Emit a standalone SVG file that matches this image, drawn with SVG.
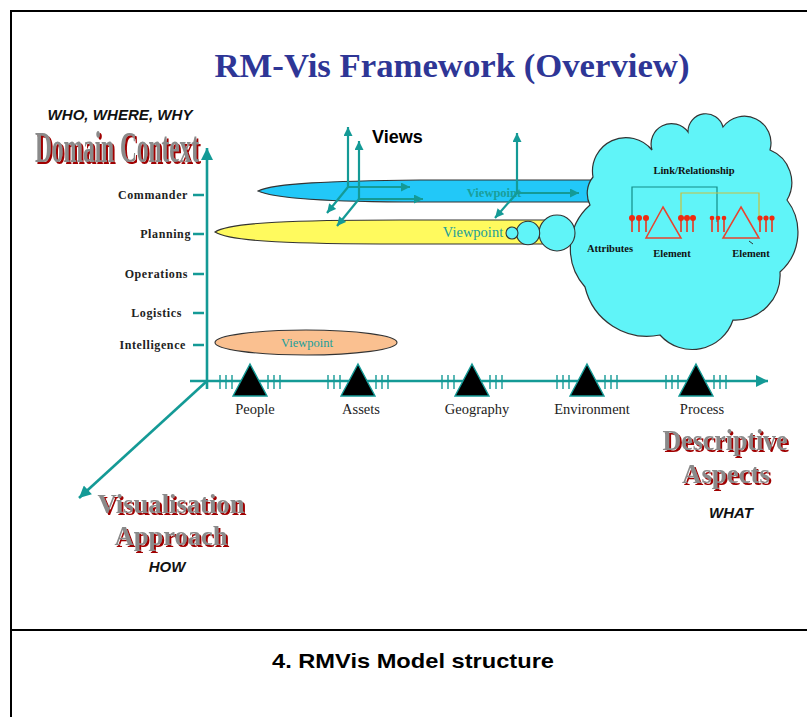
<svg xmlns="http://www.w3.org/2000/svg" width="807" height="717" viewBox="0 0 807 717">
<defs>
<style>
.ax{stroke:#149A96;stroke-width:2.6;fill:none}
.tk{stroke:#149A96;stroke-width:2.4}
.tt{stroke:#149A96;stroke-width:1.4}
.vw{stroke:#149A96;stroke-width:2.2;fill:none}
.lbl{font-family:"Liberation Serif",serif;font-weight:bold;font-size:12px;fill:#222;letter-spacing:0.6px;text-anchor:end}
.cat{font-family:"Liberation Serif",serif;font-size:14.5px;fill:#222;text-anchor:middle}
.vp{font-family:"Liberation Serif",serif;fill:#1A9E9A;text-anchor:middle}
.big{font-family:"Liberation Serif",serif;font-weight:bold;fill:#8A8A8A;text-anchor:middle;filter:url(#rs)}
.sub{font-family:"Liberation Sans",Arial,sans-serif;font-weight:bold;font-style:italic;fill:#111;text-anchor:middle}
.cl{font-family:"Liberation Serif",serif;font-weight:bold;font-size:10.5px;fill:#111;text-anchor:middle}
.tri{fill:#000;stroke:#149A96;stroke-width:1.4}
.rt{fill:none;stroke:#E8432E;stroke-width:1.5}
.pin{stroke:#F02A10;stroke-width:1.5}
.ph{fill:#F02A10}
.ol{stroke:#333;stroke-width:1.1}
</style>
<marker id="ah" viewBox="0 0 10 10" refX="10" refY="5" markerWidth="10" markerHeight="9" markerUnits="userSpaceOnUse" orient="auto"><path d="M0,0 L10,5 L0,10 z" fill="#149A96"/></marker>
<marker id="ahb" viewBox="0 0 10 10" refX="10" refY="5" markerWidth="14" markerHeight="12" markerUnits="userSpaceOnUse" orient="auto"><path d="M0,0 L10,5 L0,10 z" fill="#149A96"/></marker>
<filter id="rs" x="-10%" y="-20%" width="125%" height="160%">
<feOffset in="SourceAlpha" dx="2" dy="2" result="o"/>
<feFlood flood-color="#A00000"/>
<feComposite in2="o" operator="in" result="s"/>
<feMerge><feMergeNode in="s"/><feMergeNode in="SourceGraphic"/></feMerge>
</filter>
</defs>
<rect width="807" height="717" fill="#fff"/>
<g id="frame" fill="none" stroke="#000" stroke-width="2">
<path d="M808,11 H11 V718"/>
<path d="M11,630 H808"/>
</g>
<text x="452" y="77" font-family="Liberation Serif,serif" font-weight="bold" font-size="34" fill="#2E3696" text-anchor="middle" textLength="475" lengthAdjust="spacingAndGlyphs">RM-Vis Framework (Overview)</text>
<text x="413" y="668" font-family="Liberation Sans,Arial,sans-serif" font-weight="bold" font-size="21" fill="#000" text-anchor="middle" textLength="282" lengthAdjust="spacingAndGlyphs">4. RMVis Model structure</text>

<g id="ellipses">
<path d="M258,191 C275,183 330,181 420,180 L612,180 L612,202 L420,202 C330,202 275,199 258,191 Z" fill="#22C8F8" class="ol"/>
<path d="M215,232 C230,222 300,220 400,220 L560,220 L560,244 L400,244 C300,244 230,242 215,232 Z" fill="#FFFA5E" class="ol"/>
<ellipse cx="306" cy="342.5" rx="91" ry="12.5" fill="#FAC090" class="ol"/>
<text class="vp" x="494" y="197" font-size="12.5" font-weight="bold">Viewpoint</text>
<text class="vp" x="473" y="237" font-size="14.5">Viewpoint</text>
<text class="vp" x="307" y="347" font-size="12.5">Viewpoint</text>
</g>

<g id="cloud">
<path d="M593,177 A33.5,33.5 0 0 1 652,150 A20.4,20.4 0 0 1 688,132 A17.8,17.8 0 0 1 723,127 A26.6,26.6 0 0 1 770,150 A35,35 0 0 1 787,200 A53,53 0 0 1 780,272 A45,45 0 0 1 733,320 A43,43 0 0 1 660,335 A64,64 0 0 1 585,287 A58,58 0 0 1 590,205 A26,26 0 0 1 593,177 Z" fill="#60F4F8" stroke="#333" stroke-width="1.2"/>
<circle cx="557" cy="233" r="18" fill="#60F4F8" class="ol"/>
<circle cx="528" cy="233" r="11.7" fill="#60F4F8" class="ol"/>
<circle cx="512" cy="233" r="6" fill="#60F4F8" class="ol"/>
<text class="cl" x="694" y="174">Link/Relationship</text>
<text class="cl" x="610" y="252">Attributes</text>
<text class="cl" x="672" y="257">Element</text>
<text class="cl" x="751" y="257">Element</text>
<path d="M632,222 V187 H717 V222" fill="none" stroke="#138C88" stroke-width="1.2"/>
<path d="M681,222 V193 H759 V222" fill="none" stroke="#C8C040" stroke-width="1.2"/>
<path class="rt" d="M663,207 L681,238 L646,238 Z"/>
<path class="rt" d="M741,207 L759,238 L723,238 Z"/>
<path d="M749,241 L753,244" stroke="#333" stroke-width="1"/>
<g id="pins">
<path class="pin" d="M632,218 V232 M639,218 V232 M646,218 V232 M681,218 V232 M687,218 V232 M693,218 V232 M712,218 V232 M718,218 V232 M724,218 V232 M760,218 V232 M766,218 V232 M772,218 V232"/>
<g class="ph">
<circle cx="632" cy="218" r="3"/><circle cx="639" cy="218" r="3"/><circle cx="646" cy="218" r="3"/>
<circle cx="681" cy="218" r="3"/><circle cx="687" cy="218" r="3"/><circle cx="693" cy="218" r="3"/>
<circle cx="712" cy="218" r="2.3"/><circle cx="718" cy="218" r="2.3"/><circle cx="724" cy="218" r="2.3"/>
<circle cx="760" cy="218" r="2.6"/><circle cx="766" cy="218" r="2.6"/><circle cx="772" cy="218" r="2.6"/>
</g>
</g>
</g>

<g id="views">
<path class="vw" marker-end="url(#ah)" d="M348,188 V127"/>
<path class="vw" marker-end="url(#ah)" d="M348,187 H410"/>
<path class="vw" marker-end="url(#ah)" d="M348,187 L327,213"/>
<path class="vw" marker-end="url(#ah)" d="M359,200 V141"/>
<path class="vw" marker-end="url(#ah)" d="M359,199 H423"/>
<path class="vw" marker-end="url(#ah)" d="M359,199 L337,226"/>
<path class="vw" marker-end="url(#ah)" d="M517,194 V133"/>
<path class="vw" marker-end="url(#ah)" d="M517,193 H579"/>
<path class="vw" marker-end="url(#ah)" d="M517,193 L495,218"/>
<text x="372" y="143" font-family="Liberation Sans,Arial,sans-serif" font-weight="bold" font-size="18" fill="#000">Views</text>
</g>

<g id="axes">
<path class="ax" marker-end="url(#ahb)" d="M207,389 V148"/>
<path class="ax" marker-end="url(#ahb)" d="M190,381 H768"/>
<path class="ax" marker-end="url(#ahb)" d="M207,381 L79,498"/>
<path class="tk" d="M193,195 H204 M193,234 H204 M193,274 H204 M193,313 H204 M193,345 H204"/>
<text class="lbl" x="188" y="199">Commander</text>
<text class="lbl" x="191" y="238">Planning</text>
<text class="lbl" x="188" y="278">Operations</text>
<text class="lbl" x="182" y="317">Logistics</text>
<text class="lbl" x="186" y="349">Intelligence</text>
</g>

<g id="aspects">
<path class="tt" d="M220,375 V389 M226,375 V389 M232,375 V389 M268,375 V389 M274,375 V389 M280,375 V389"/>
<path class="tt" d="M328,375 V389 M334,375 V389 M340,375 V389 M376,375 V389 M382,375 V389 M388,375 V389"/>
<path class="tt" d="M442,375 V389 M448,375 V389 M454,375 V389 M490,375 V389 M496,375 V389 M502,375 V389"/>
<path class="tt" d="M557,375 V389 M563,375 V389 M569,375 V389 M605,375 V389 M611,375 V389 M617,375 V389"/>
<path class="tt" d="M666,375 V389 M672,375 V389 M678,375 V389 M714,375 V389 M720,375 V389 M726,375 V389"/>
<path class="tri" d="M250,364 L267,396 L233,396 Z"/>
<path class="tri" d="M358,364 L375,396 L341,396 Z"/>
<path class="tri" d="M472,364 L489,396 L455,396 Z"/>
<path class="tri" d="M587,364 L604,396 L570,396 Z"/>
<path class="tri" d="M696,364 L713,396 L679,396 Z"/>
<text class="cat" x="255" y="414">People</text>
<text class="cat" x="361" y="414">Assets</text>
<text class="cat" x="477" y="414">Geography</text>
<text class="cat" x="592" y="414">Environment</text>
<text class="cat" x="702" y="414">Process</text>
</g>

<g id="headings">
<text class="sub" x="120" y="120" font-size="14.5" textLength="145" lengthAdjust="spacingAndGlyphs">WHO, WHERE, WHY</text>
<text class="big" x="117" y="162" font-size="44" textLength="164" lengthAdjust="spacingAndGlyphs">Domain Context</text>
<text class="big" x="725" y="450" font-size="30" textLength="125" lengthAdjust="spacingAndGlyphs">Descriptive</text>
<text class="big" x="726" y="483" font-size="28" textLength="88" lengthAdjust="spacingAndGlyphs">Aspects</text>
<text class="sub" x="731" y="518" font-size="15">WHAT</text>
<text class="big" x="171" y="513" font-size="28" textLength="147" lengthAdjust="spacingAndGlyphs">Visualisation</text>
<text class="big" x="171" y="545" font-size="28" textLength="113" lengthAdjust="spacingAndGlyphs">Approach</text>
<text class="sub" x="167" y="572" font-size="15">HOW</text>
</g>
</svg>
